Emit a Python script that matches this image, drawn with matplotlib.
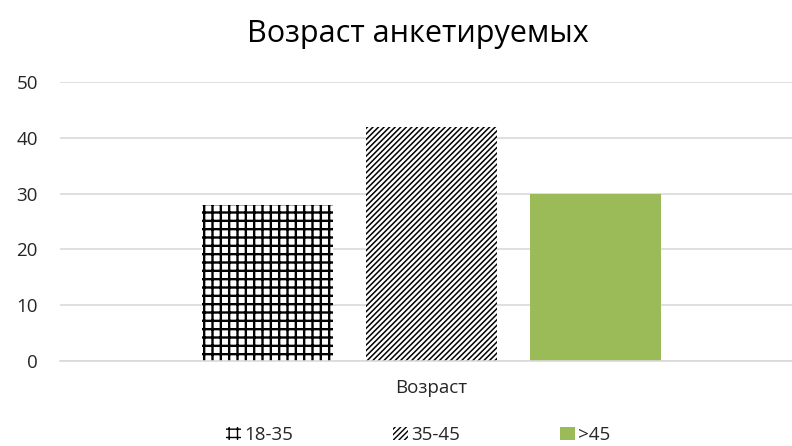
import matplotlib.pyplot as plt

plt.rcParams['font.family'] = ['Open Sans', 'DejaVu Sans']
plt.rcParams['hatch.linewidth'] = 1.6

# данные
series = ['18-35', '35-45', '>45']
values = [28, 42, 30]
category = ['Возраст']
hatches = ['++', '//////', '']
hatch_lw = [1.7, 1.1, 1.0]
facecolors = ['white', 'white', '#9BBB59']
edgecolors = ['black', 'black', '#9BBB59']
offsets = [-0.449, 0.0, 0.448]
bar_w = 0.358

fig = plt.figure(figsize=(7.92, 4.46), dpi=100)
ax = fig.add_axes([60 / 792, 85 / 446, 732 / 792, 279 / 446])

for i in range(len(series)):
    plt.rcParams['hatch.linewidth'] = hatch_lw[i]
    bars = ax.bar(offsets[i], values[i], width=bar_w, color=facecolors[i],
                  edgecolor=edgecolors[i], hatch=hatches[i], linewidth=0,
                  label=series[i], zorder=2)
    for b in bars:
        if hasattr(b, 'set_hatch_linewidth'):
            b.set_hatch_linewidth(hatch_lw[i])

ax.set_ylim(0, 50)
ax.set_xlim(-1.015, 0.985)
ax.set_yticks(range(0, 51, 10))
ax.set_xticks([0])
ax.set_xticklabels(category)
ax.grid(axis='y', color='#D9D9D9', linewidth=1.2, zorder=0)
for s in ['top', 'right', 'left']:
    ax.spines[s].set_visible(False)
ax.spines['bottom'].set_color('#D9D9D9')
ax.spines['bottom'].set_linewidth(1.2)
ax.tick_params(axis='both', length=0, labelsize=13.5, colors='#262626')
ax.tick_params(axis='y', pad=16)
ax.tick_params(axis='x', pad=13)

fig.text(418 / 792, 1 - 42 / 446, 'Возраст анкетируемых', ha='center', va='baseline',
         fontsize=22, color='black')

fig.legend(loc='center', bbox_to_anchor=(418 / 792, 1 - 435 / 446), ncol=3, frameon=False,
           fontsize=13.5, handlelength=0.8, handleheight=0.75, handletextpad=0.2,
           columnspacing=5.3, labelcolor='#262626', borderpad=0)

fig.savefig('out.png', dpi=100)
